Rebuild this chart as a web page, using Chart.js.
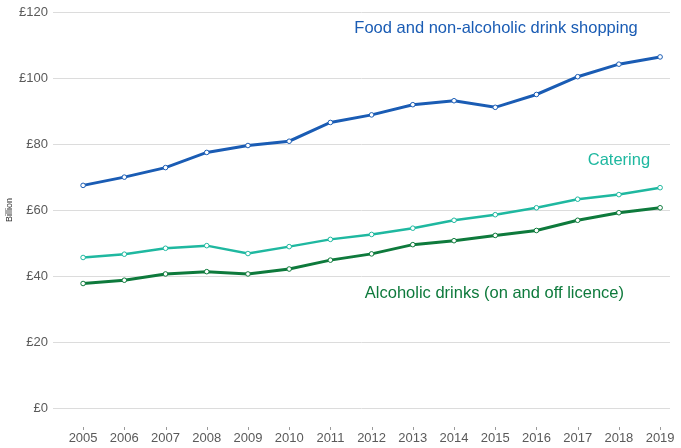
<!DOCTYPE html>
<html>
<head>
<meta charset="utf-8">
<script src="https://cdn.jsdelivr.net/npm/chart.js@4/dist/chart.umd.min.js"></script>
<style>
  html, body { margin: 0; padding: 0; background: #fff; }
  #wrap { width: 681px; height: 448px; }
</style>
</head>
<body>
<div id="wrap"><canvas id="myChart"></canvas></div>
<script>
// data (£ billion)
var years = [2005, 2006, 2007, 2008, 2009, 2010, 2011, 2012, 2013, 2014, 2015, 2016, 2017, 2018, 2019];
var foodShopping = [67.6, 70.1, 73.0, 77.6, 79.7, 81.0, 86.7, 89.0, 92.1, 93.3, 91.3, 95.2, 100.6, 104.4, 106.6];
var catering = [45.7, 46.7, 48.5, 49.3, 46.9, 49.0, 51.2, 52.7, 54.6, 57.0, 58.7, 60.8, 63.4, 64.8, 66.9];
var alcoholicDrinks = [37.8, 38.8, 40.7, 41.4, 40.7, 42.2, 44.9, 46.8, 49.6, 50.8, 52.4, 53.9, 57.0, 59.3, 60.8];
var yTicks = [0, 20, 40, 60, 80, 100, 120];

var seriesLabels = [
  { text: 'Food and non-alcoholic drink shopping', color: '#1a5cb4', x: 2015.02, y: 115.2 },
  { text: 'Catering', color: '#1fb8a0', x: 2018.0, y: 75.2 },
  { text: 'Alcoholic drinks (on and off licence)', color: '#0e7a3c', x: 2014.98, y: 34.8 }
];

function toPoints(values){
  return values.map(function(v, i){ return { x: years[i], y: v }; });
}

//draws the inline series names, the small year marks and the y axis title
var labelPlugin = {
  id: 'seriesLabels',
  afterDraw: function(chart){
    var ctx = chart.ctx;
    var xs = chart.scales.x, ys = chart.scales.y;
    ctx.save();
    ctx.font = '16.5px "Liberation Sans", Arial, sans-serif';
    ctx.textAlign = 'center';
    ctx.textBaseline = 'middle';
    seriesLabels.forEach(function(l){
      ctx.fillStyle = l.color;
      ctx.fillText(l.text, xs.getPixelForValue(l.x), ys.getPixelForValue(l.y));
    });
    // little marks above the year labels
    ctx.strokeStyle = '#9a9a9a';
    ctx.lineWidth = 1;
    years.forEach(function(y){
      var px = Math.round(xs.getPixelForValue(y)) + 0.5;
      ctx.beginPath();
      ctx.moveTo(px, chart.chartArea.bottom + 19);
      ctx.lineTo(px, chart.chartArea.bottom + 22);
      ctx.stroke();
    });
    // y title
    ctx.translate(10, 210);
    ctx.rotate(-Math.PI / 2);
    ctx.fillStyle = '#333';
    ctx.font = '9px "Liberation Sans", Arial, sans-serif';
    ctx.fillText('Billion', 0, 0);
    ctx.restore();
  }
};

function lineSet(label, values, color, width){
  return {
    label: label,
    data: toPoints(values),
    borderColor: color,
    borderWidth: width,
    pointRadius: 2.3,
    pointBorderWidth: 1,
    pointBackgroundColor: '#fff',
    pointBorderColor: color,
    tension: 0
  };
}

var tickFont = { family: '"Liberation Sans", Arial, sans-serif', size: 13 };

var chart = new Chart(document.getElementById('myChart'), {
  type: 'line',
  data: {
    datasets: [
      lineSet('Food and non-alcoholic drink shopping', foodShopping, '#1a5cb4', 3),
      lineSet('Catering', catering, '#1fb8a0', 2.5),
      lineSet('Alcoholic drinks (on and off licence)', alcoholicDrinks, '#0e7a3c', 3)
    ]
  },
  options: {
    responsive: true,
    maintainAspectRatio: false,
    animation: false,
    layout: { padding: { top: 12, right: 11, left: 0, bottom: 0 } },
    plugins: { legend: { display: false }, tooltip: { enabled: false } },
    scales: {
      x: {
        type: 'linear',
        min: 2004.27,
        max: 2019.24,
        afterBuildTicks: function(scale){
          scale.ticks = years.map(function(y){ return { value: y }; });
        },
        afterFit: function(scale){
          scale.height = 40;
          scale.paddingLeft = 0;
          scale.paddingRight = 0;
        },
        grid: { display: false },
        border: { display: false },
        ticks: {
          padding: 15,
          color: '#5a5a5a',
          font: tickFont,
          callback: function(v){ return String(v); },
          maxRotation: 0
        }
      },
      y: {
        min: 0,
        max: 120,
        afterBuildTicks: function(scale){
          scale.ticks = yTicks.map(function(v){ return { value: v }; });
        },
        afterFit: function(scale){ scale.width = 53; },
        grid: { color: '#dcdcdc', lineWidth: 1, drawTicks: false },
        border: { display: false },
        ticks: {
          padding: 5,
          color: '#5a5a5a',
          font: tickFont,
          callback: function(v){ return '£' + v; }
        }
      }
    }
  },
  plugins: [labelPlugin]
});
</script>
</body>
</html>
